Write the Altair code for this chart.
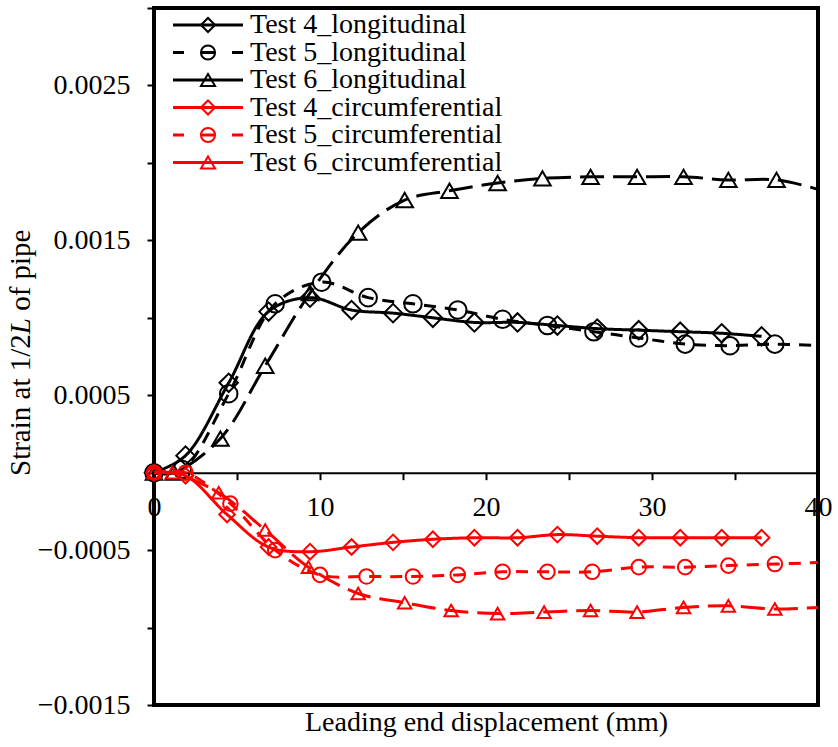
import altair as alt
import pandas as pd

FONT = "Liberation Serif"
FS = 28
FS_YTITLE = 29

SERIES = [
    "Test 4_longitudinal",
    "Test 5_longitudinal",
    "Test 6_longitudinal",
    "Test 4_circumferential",
    "Test 5_circumferential",
    "Test 6_circumferential",
]

# Leading end displacement (mm) and strain at each plotted marker
x_t4_long = [0, 1.9, 4.5, 6.9, 9.4, 11.9, 14.4, 16.8, 19.3, 21.9, 24.3, 26.7, 29.2, 31.7, 34.2, 36.6]
y_t4_long = [0, 0.00011, 0.00058, 0.00104, 0.00113, 0.00105, 0.00103, 0.00100, 0.00097,
             0.00097, 0.00095, 0.00093, 0.00092, 0.00091, 0.00090, 0.00088]

x_t5_long = [0, 1.7, 4.5, 7.3, 10.1, 12.9, 15.6, 18.3, 21.0, 23.7, 26.5, 29.2, 32.0, 34.7, 37.4]
y_t5_long = [0, 0.00002, 0.00051, 0.00109, 0.00123, 0.00113, 0.00109, 0.00105, 0.00099,
             0.00095, 0.00091, 0.00087, 0.00083, 0.00082, 0.00083]

x_t6_long = [0, 1.2, 4.0, 6.7, 9.4, 12.3, 15.1, 17.8, 20.7, 23.4, 26.3, 29.1, 31.9, 34.6, 37.5]
y_t6_long = [0, 0.0, 0.00022, 0.00069, 0.00116, 0.00155, 0.00176, 0.00182, 0.00187,
             0.00190, 0.00191, 0.00191, 0.00191, 0.00189, 0.00189]

x_t4_circ = [0, 1.9, 4.4, 6.9, 9.4, 11.9, 14.4, 16.8, 19.3, 21.9, 24.3, 26.7, 29.2, 31.7, 34.2, 36.6]
y_t4_circ = [0, -0.00002, -0.00027, -0.00048, -0.00051, -0.00048, -0.00045, -0.00043, -0.00042,
             -0.00042, -0.00040, -0.00041, -0.00042, -0.00042, -0.00042, -0.00042]

x_t5_circ = [0, 1.9, 4.6, 7.3, 10.0, 12.8, 15.6, 18.3, 21.0, 23.7, 26.4, 29.2, 32.0, 34.6, 37.4]
y_t5_circ = [0, 0.0, -0.00020, -0.00050, -0.00066, -0.00067, -0.00067, -0.00066, -0.00064,
             -0.00064, -0.00064, -0.00061, -0.00061, -0.00060, -0.00059]

x_t6_circ = [0, 1.1, 3.9, 6.7, 9.3, 12.3, 15.1, 17.9, 20.7, 23.5, 26.3, 29.1, 31.9, 34.6, 37.4]
y_t6_circ = [0, 0.0, -0.00013, -0.00037, -0.00061, -0.00078, -0.00084, -0.00089, -0.00091,
             -0.00090, -0.00089, -0.00090, -0.00087, -0.00086, -0.00088]

# Recorded values past the last marker (curves run on to 40 mm)
x_tail = [None, 40, 40, None, 40, 40]
y_tail = [None, 0.00082, 0.00183, None, -0.00058, -0.00087]

marker_xs = [x_t4_long, x_t5_long, x_t6_long, x_t4_circ, x_t5_circ, x_t6_circ]
marker_ys = [y_t4_long, y_t5_long, y_t6_long, y_t4_circ, y_t5_circ, y_t6_circ]

rows = []
for name, xs, ys, xt, yt in zip(SERIES, marker_xs, marker_ys, x_tail, y_tail):
    kind = "long" if "longitudinal" in name else "circ"
    for xv, yv in zip(xs, ys):
        rows.append({"series": name, "x": xv, "y": yv, "marker": True, "kind": kind})
    if xt is not None:
        rows.append({"series": name, "x": xt, "y": yt, "marker": False, "kind": kind})
df = pd.DataFrame(rows)

color_scale = alt.Scale(domain=SERIES, range=["black"] * 3 + ["red"] * 3)
shape_scale = alt.Scale(domain=SERIES, range=["diamond", "circle", "triangle-up"] * 2)
dash_scale = alt.Scale(domain=SERIES, range=[[1, 0], [12, 9], [24, 9]] * 2)
size_scale = alt.Scale(domain=SERIES, range=[340, 180, 420, 320, 480, 380])

W, H = 664, 697
Y_MIN, Y_MAX = -0.0015, 0.003
zero_offset = -H * (0 - Y_MIN) / (Y_MAX - Y_MIN)

x_enc = alt.X(
    "x:Q",
    scale=alt.Scale(domain=[0, 40], nice=False, zero=False),
    axis=alt.Axis(
        values=[0, 5, 10, 15, 20, 25, 30, 35, 40],
        labelExpr="datum.value % 10 == 0 ? datum.label : ''",
        title="Leading end displacement (mm)",
        offset=zero_offset,
        grid=False,
        tickSize=7, tickWidth=2, tickColor="black",
        domainColor="black", domainWidth=2,
        labelFont=FONT, labelFontSize=FS, labelColor="black",
        labelBaseline="alphabetic", labelPadding=35.5,
        labelFlush=False, labelOverlap=False,
        titleFont=FONT, titleFontSize=FS, titleFontWeight="normal",
        titleColor="black", titleBaseline="alphabetic",
        titleY=-zero_offset + 25,
    ),
)
y_enc = alt.Y(
    "y:Q",
    scale=alt.Scale(domain=[Y_MIN, Y_MAX], nice=False, zero=False),
    axis=alt.Axis(
        values=[-0.0015, -0.001, -0.0005, 0, 0.0005, 0.001, 0.0015, 0.002, 0.0025, 0.003],
        labelExpr="abs(round(datum.value * 2000)) % 2 == 1 ? format(datum.value, '.4f') : ''",
        title=None,
        grid=False,
        domain=False,
        tickSize=7, tickWidth=2, tickColor="black",
        labelFont=FONT, labelFontSize=FS, labelColor="black",
        labelPadding=17, labelFlush=False, labelOverlap=False,
    ),
)
col = alt.Color("series:N", scale=color_scale, legend=None)
dash = alt.StrokeDash("series:N", scale=dash_scale, legend=None)
shp = alt.Shape("series:N", scale=shape_scale, legend=None)
sz = alt.Size("series:N", scale=size_scale, legend=None)

base = alt.Chart(df)


def curves(kind):
    part = base.transform_filter(f"datum.kind == '{kind}'")
    line = part.mark_line(strokeWidth=3, interpolate="catmull-rom").encode(
        x=x_enc, y=y_enc, color=col, strokeDash=dash, detail="series:N"
    )
    pts = part.transform_filter("datum.marker").mark_point(
        filled=False, strokeWidth=2, opacity=1
    ).encode(x=x_enc, y=y_enc, color=col, shape=shp, size=sz)
    return [line, pts]


# Legend drawn inside the plot, top left
leg_df = pd.DataFrame({"series": SERIES, "row": list(range(len(SERIES)))})
leg = alt.Chart(leg_df).transform_calculate(ly="17 + 27.5 * datum.row")
ly = alt.Y("ly:Q", scale=None, axis=None)
leg_line_solid = leg.transform_filter("indexof(datum.series, 'Test 5') < 0").mark_rule(
    strokeWidth=3
).encode(x=alt.value(19), x2=alt.value(89), y=ly, color=col)
leg_line_dash = leg.transform_filter("indexof(datum.series, 'Test 5') >= 0").mark_rule(
    strokeWidth=3, strokeDash=[11, 18, 12, 18, 11, 100]
).encode(x=alt.value(19), x2=alt.value(89), y=ly, color=col)
leg_pt = leg.mark_point(filled=False, strokeWidth=2, opacity=1, size=200).encode(
    x=alt.value(54), y=ly, color=col, shape=shp
)
leg_txt = leg.mark_text(
    align="left", baseline="middle", font=FONT, fontSize=FS, color="black"
).encode(x=alt.value(96), y=ly, text="series:N")

# Vertical axis title with an italic L
one = alt.Chart(pd.DataFrame({"k": [0]}))
Y0 = 468 - 4.889 * FS_YTITLE
title_parts = [
    one.mark_text(text="Strain at 1/2", angle=270, align="right", baseline="alphabetic",
                  font=FONT, fontSize=FS_YTITLE, color="black").encode(
        x=alt.value(-124), y=alt.value(Y0)),
    one.mark_text(text="L", angle=270, align="left", baseline="alphabetic", fontStyle="italic",
                  font=FONT, fontSize=FS_YTITLE, color="black").encode(
        x=alt.value(-124), y=alt.value(Y0)),
    one.mark_text(text="of pipe", angle=270, align="left", baseline="alphabetic",
                  font=FONT, fontSize=FS_YTITLE, color="black").encode(
        x=alt.value(-124), y=alt.value(Y0 - (0.556 + 0.25) * FS_YTITLE)),
]

chart = alt.layer(
    *curves("long"), *curves("circ"),
    leg_line_solid, leg_line_dash, leg_pt, leg_txt, *title_parts
).properties(
    width=W, height=H,
    autosize=alt.AutoSizeParams(type="none"),
    padding={"left": 154, "top": 8, "right": 20, "bottom": 42},
    background="white",
).configure_view(
    stroke="black", strokeWidth=4
)

chart.save("out.html", embed_options={"renderer": "svg", "actions": False})
